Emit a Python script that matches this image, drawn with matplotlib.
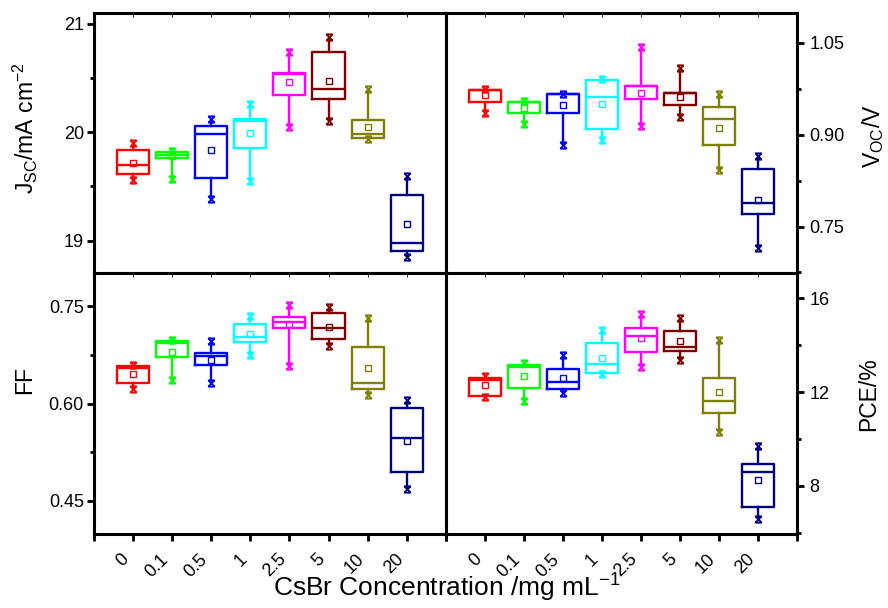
import matplotlib
matplotlib.use("Agg")
import matplotlib.pyplot as plt
from matplotlib.path import Path
from matplotlib.ticker import MultipleLocator, FixedLocator, FormatStrFormatter

plt.rcParams.update({
    "font.family": "Liberation Sans",
    "mathtext.fontset": "custom",
    "mathtext.rm": "Liberation Sans",
    "mathtext.it": "Liberation Sans:italic",
    "mathtext.default": "regular",
})

# CsBr concentration (mg/mL) categories
conc = ["0", "0.1", "0.5", "1", "2.5", "5", "10", "20"]
colors = ["#ff0000", "#00ff00", "#0000ff", "#00ffff",
          "#ff00ff", "#800000", "#808000", "#000080"]

# Jsc (mA cm^-2)
jsc_lo = [19.56, 19.57, 19.38, 19.55, 20.05, 20.10, 19.94, 18.85]
jsc_q1 = [19.61, 19.76, 19.58, 19.85, 20.34, 20.31, 19.95, 18.90]
jsc_med = [19.70, 19.79, 19.98, 20.10, 20.54, 20.40, 19.98, 18.98]
jsc_q3 = [19.84, 19.82, 20.06, 20.12, 20.55, 20.74, 20.11, 19.42]
jsc_hi = [19.90, 19.83, 20.12, 20.26, 20.74, 20.88, 20.40, 19.60]
jsc_mean = [19.72, 19.78, 19.84, 19.99, 20.46, 20.47, 20.05, 19.15]

# Voc (V)
voc_lo = [0.936, 0.917, 0.883, 0.891, 0.914, 0.929, 0.842, 0.715]
voc_q1 = [0.954, 0.935, 0.936, 0.910, 0.958, 0.948, 0.883, 0.770]
voc_med = [0.973, 0.954, 0.966, 0.961, 0.979, 0.969, 0.926, 0.789]
voc_q3 = [0.973, 0.954, 0.966, 0.990, 0.979, 0.969, 0.945, 0.844]
voc_hi = [0.974, 0.955, 0.967, 0.991, 1.043, 1.009, 0.966, 0.865]
voc_mean = [0.965, 0.943, 0.948, 0.950, 0.968, 0.962, 0.911, 0.793]

# FF
ff_lo = [0.623, 0.636, 0.631, 0.674, 0.657, 0.688, 0.613, 0.469]
ff_q1 = [0.631, 0.671, 0.659, 0.695, 0.717, 0.700, 0.622, 0.495]
ff_med = [0.655, 0.693, 0.673, 0.703, 0.725, 0.717, 0.632, 0.547]
ff_q3 = [0.657, 0.696, 0.678, 0.722, 0.733, 0.739, 0.687, 0.593]
ff_hi = [0.660, 0.698, 0.697, 0.734, 0.752, 0.748, 0.731, 0.606]
ff_mean = [0.646, 0.680, 0.667, 0.707, 0.722, 0.718, 0.654, 0.543]

# PCE (%)
pce_lo = [11.78, 11.64, 11.95, 12.79, 13.08, 13.36, 10.31, 6.59]
pce_q1 = [11.84, 12.19, 12.15, 12.83, 13.72, 13.77, 11.12, 7.12]
pce_med = [12.52, 13.07, 12.44, 13.20, 14.39, 13.91, 11.64, 8.61]
pce_q3 = [12.59, 13.16, 13.00, 14.11, 14.75, 14.59, 12.59, 8.92]
pce_hi = [12.69, 13.23, 13.58, 14.64, 15.33, 15.15, 14.22, 9.69]
pce_mean = [12.30, 12.70, 12.59, 13.47, 14.29, 14.17, 11.99, 8.25]

# end marker: an "x" closed by short bars top and bottom
end_marker = Path(
    [(-1, -1), (1, 1), (-1, 1), (1, -1), (-1, 1), (1, 1), (-1, -1), (1, -1)],
    [Path.MOVETO, Path.LINETO] * 4,
)

W, H = 888, 608
fig = plt.figure(figsize=(W / 100, H / 100), dpi=100)


def rect(x0, y0, x1, y1):
    return [x0 / W, 1 - y1 / H, (x1 - x0) / W, (y1 - y0) / H]


def draw_panel(ax, lo, q1, med, q3, hi, mean, ylim, major, minor, fmt,
               side, bottom_labels):
    pos = range(1, len(conc) + 1)
    for p, c, a, b, m, d, e, mu in zip(pos, colors, lo, q1, med, q3, hi, mean):
        st = dict(whislo=a, q1=b, med=m, q3=d, whishi=e, mean=mu, fliers=[])
        lp = dict(color=c, lw=1.7)
        ax.bxp([st], positions=[p], widths=0.82, showmeans=True,
               showcaps=False, showfliers=False,
               boxprops=lp, whiskerprops=lp, medianprops=lp,
               meanprops=dict(marker="s", markersize=4.2, mfc="none",
                              mec=c, mew=1.0))
        ax.plot([p, p], [a, e], ls="none", marker=end_marker, ms=4.6,
                mec=c, mew=1.3)

    ax.set_xlim(0, 9)
    ax.set_ylim(*ylim)
    for s in ax.spines.values():
        s.set_linewidth(2.2)

    ax.xaxis.set_major_locator(FixedLocator(range(0, 10)))
    if bottom_labels:
        ax.set_xticklabels([""] + conc + [""], rotation=45,
                           ha="right", va="top")
    else:
        ax.set_xticklabels([])
    ax.tick_params(axis="x", direction="out", length=5, width=2,
                   labelsize=13, pad=7)

    ax.yaxis.set_major_locator(MultipleLocator(major))
    ax.yaxis.set_minor_locator(MultipleLocator(minor))
    ax.yaxis.set_major_formatter(FormatStrFormatter(fmt))
    if side == "right":
        ax.yaxis.tick_right()
        ypad = 4
    else:
        ypad = 2
    ax.tick_params(axis="y", which="major", direction="out", length=5,
                   width=2, labelsize=13, pad=ypad)
    ax.tick_params(axis="y", which="minor", direction="out", length=3,
                   width=2)

    # faint inward ticks along the top edge
    top = ax.secondary_xaxis("top")
    top.set_xticks(range(1, 9))
    top.set_xticklabels([])
    top.tick_params(direction="in", length=3, width=0.6)
    top.spines["top"].set_visible(False)

    if side == "left":
        rt = ax.secondary_yaxis("right")
        rt.yaxis.set_major_locator(MultipleLocator(minor))
        rt.set_yticklabels([])
        rt.tick_params(direction="out", length=3, width=1)
        rt.spines["right"].set_visible(False)


ax1 = fig.add_axes(rect(93.5, 13, 446, 273))
draw_panel(ax1, jsc_lo, jsc_q1, jsc_med, jsc_q3, jsc_hi, jsc_mean,
           (18.7, 21.1), 1, 0.5, "%d", "left", False)
ax2 = fig.add_axes(rect(446, 13, 797, 273))
draw_panel(ax2, voc_lo, voc_q1, voc_med, voc_q3, voc_hi, voc_mean,
           (0.674, 1.099), 0.15, 0.075, "%.2f", "right", False)
ax3 = fig.add_axes(rect(93.5, 273, 446, 534))
draw_panel(ax3, ff_lo, ff_q1, ff_med, ff_q3, ff_hi, ff_mean,
           (0.399, 0.801), 0.15, 0.075, "%.2f", "left", True)
ax4 = fig.add_axes(rect(446, 273, 797, 534))
draw_panel(ax4, pce_lo, pce_q1, pce_med, pce_q3, pce_hi, pce_mean,
           (5.95, 17.08), 4, 2, "%d", "right", True)

fig.text(25 / W, 1 - 128 / H, "J$_{SC}$/mA cm$^{-2}$", rotation=90,
         ha="center", va="center", fontsize=16.5)
fig.text(25 / W, 1 - 380 / H, "FF", rotation=90,
         ha="center", va="center", fontsize=16.5)
fig.text(873 / W, 1 - 136 / H, "V$_{OC}$/V", rotation=90,
         ha="center", va="center", fontsize=16.5)
fig.text(869 / W, 1 - 394 / H, "PCE/%", rotation=90,
         ha="center", va="center", fontsize=16.5)
fig.text(447 / W, 1 - 588 / H, "CsBr Concentration /mg mL$^{-1}$",
         ha="center", va="center", fontsize=19)

fig.savefig("out.png", dpi=100)
